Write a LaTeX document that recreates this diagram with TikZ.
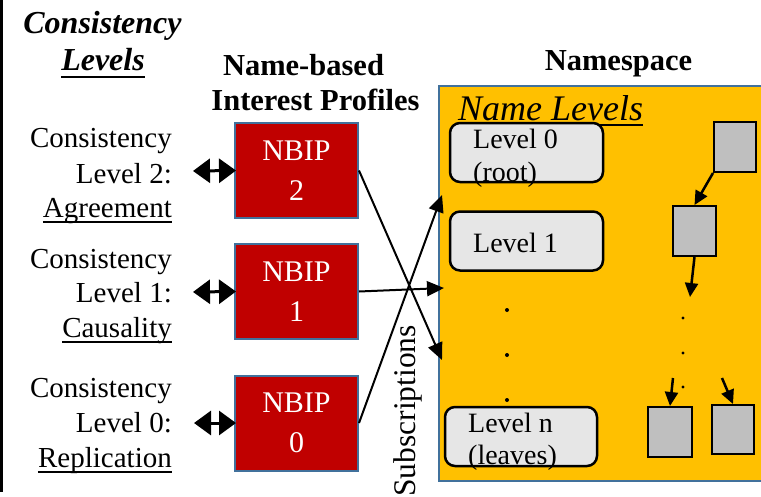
\documentclass[tikz,border=0pt]{standalone}
\usepackage{fontspec}
\setmainfont{Liberation Serif}
\usetikzlibrary{arrows.meta,calc}

\definecolor{nbipred}{HTML}{C00000}
\definecolor{nsyellow}{HTML}{FFC000}
\definecolor{edgeblue}{HTML}{41719C}
\definecolor{lvlgray}{HTML}{E6E6E6}
\definecolor{sqgray}{HTML}{BFBFBF}

\tikzset{
  lbl/.style={font=\fontsize{29}{35}\selectfont, inner sep=0pt, anchor=base east},
  hdr/.style={font=\fontsize{30.5}{36}\selectfont\bfseries, inner sep=0pt, anchor=base},
  lvltxt/.style={font=\fontsize{28}{33}\selectfont, inner sep=0pt, anchor=base west},
  nbip/.style={draw=edgeblue, line width=2pt, fill=nbipred, text=white,
    minimum width=123pt, minimum height=95pt, inner sep=0pt, align=center,
    font=\fontsize{30}{40}\selectfont},
  lvlbox/.style={draw=black, line width=2.5pt, fill=lvlgray, rounded corners=10pt,
    minimum width=153pt, minimum height=59pt, inner sep=0pt},
  sq/.style={draw=black, line width=2pt, fill=sqgray, minimum width=43pt,
    minimum height=50pt, inner sep=0pt},
  dbl/.style={line width=3pt, {Triangle[length=17pt,width=24pt]}-{Triangle[length=17pt,width=24pt]}},
  sub/.style={line width=2pt, -{Triangle[length=17pt,width=15pt]}},
  tree/.style={line width=2.5pt, -{Triangle[length=14pt,width=13pt]}},
  uline/.style={line width=1.3pt},
}

\begin{document}
\begin{tikzpicture}[x=1pt,y=-1pt]
\useasboundingbox (0,0) rectangle (761,496);

% left rule
\draw[line width=3pt] (1.5,0) -- (1.5,492);

% column headers
\node[hdr, font=\fontsize{32}{36}\selectfont\bfseries\itshape] (hcons) at (102.5,33) {Consistency};
\node[hdr, font=\fontsize{32}{36}\selectfont\bfseries\itshape] (hlev) at (103,70) {Levels};
\draw[line width=2pt] ([yshift=-7pt]hlev.base west) -- ([yshift=-7pt]hlev.base east);
\node[hdr] (hname) at (303.5,75) {Name-based};
\node[hdr] (hint) at (315.5,110) {Interest Profiles};
\node[hdr] (hns) at (618.5,70) {Namespace};

% consistency level labels
\node[lbl] (c2a) at (172,147) {Consistency};
\node[lbl] (c2b) at (172,183) {Level 2:};
\node[lbl] (c2c) at (172,217) {Agreement};
\node[lbl] (c1a) at (172,268) {Consistency};
\node[lbl] (c1b) at (172,302) {Level 1:};
\node[lbl] (c1c) at (172,337) {Causality};
\node[lbl] (c0a) at (172,397) {Consistency};
\node[lbl] (c0b) at (172,432) {Level 0:};
\node[lbl] (c0c) at (172,467) {Replication};
\foreach \n in {c2c,c1c,c0c}
  \draw[uline] ([yshift=-5pt]\n.base west) -- ([yshift=-5pt]\n.base east);

% interest profiles
\node[nbip] (nb2) at (296.5,170.5) {NBIP\\2};
\node[nbip] (nb1) at (296.5,291.5) {NBIP\\1};
\node[nbip] (nb0) at (296.5,423) {NBIP\\0};

\coordinate (d2) at (193,171);
\coordinate (d1) at (193,292);
\coordinate (d0) at (194,423);
\draw[dbl] (d2) -- ([xshift=2pt]nb2.west);
\draw[dbl] (d1) -- ([xshift=2pt]nb1.west);
\draw[dbl] (d0) -- ([xshift=2pt]nb0.west);

% namespace
\node[draw=edgeblue, line width=1.5pt, fill=nsyellow, anchor=north west,
      minimum width=340pt, minimum height=395pt, inner sep=0pt] (ns) at (438,85) {};
\node[font=\fontsize{36}{40}\selectfont\itshape, inner sep=0pt, anchor=base west] (nlev) at (458,120) {Name Levels};
\draw[line width=1.5pt] ([yshift=-5pt]nlev.base west) -- ([yshift=-5pt]nlev.base east);

\node[lvlbox] (lv0) at (526.5,152.5) {};
\node[lvlbox] (lv1) at (526.5,241) {};
\node[lvlbox, minimum width=152pt] (lvn) at (521,436.5) {};
\node[lvltxt] (t0a) at (473,148) {Level 0};
\node[lvltxt] (t0b) at (473,181) {(root)};
\node[lvltxt] (t1) at (473,252) {Level 1};
\node[lvltxt] (tna) at (468,432) {Level n};
\node[lvltxt] (tnb) at (468,464) {(leaves)};

\foreach \y in {310,355,400} \fill (507,\y) circle (2pt);
\foreach \y in {318,353,387} \fill (683,\y) circle (1.7pt);

% name tree
\node[sq, minimum width=42pt] (sqA) at (735,147) {};
\node[sq] (sqB) at (694.5,231) {};
\node[sq, minimum width=44pt] (sqC) at (670,432) {};
\node[sq, minimum width=42pt, minimum height=49pt] (sqD) at (733,429.5) {};
\coordinate (bdots) at (690,297);
\coordinate (cdots) at (673,378);
\coordinate (ddots) at (722,378);
\draw[tree] (sqA.south west) -- (sqB.north);
\draw[tree] (sqB.south) -- (bdots);
\draw[tree] (cdots) -- (sqC.north);
\draw[tree] (ddots) -- (sqD.north);

% subscriptions
\coordinate (in0) at (442,195);
\coordinate (in1) at (444,288);
\coordinate (in2) at (442,360);
\draw[sub] (nb2.east) -- (in2);
\draw[sub] (nb1.east) -- (in1);
\draw[sub] (nb0.east) -- (in0);
\node[font=\fontsize{31.5}{36}\selectfont, inner sep=0pt, anchor=base east, rotate=90] (subs) at (415,325) {Subscriptions};
\end{tikzpicture}
\end{document}
